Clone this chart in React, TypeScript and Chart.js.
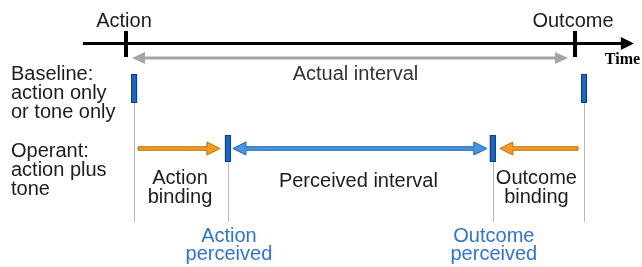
import { useEffect, useRef } from 'react';
import { Chart, registerables } from 'chart.js';

Chart.register(...registerables);

// ---- Data (timeline in % of the actual action→outcome interval) ----
const EVENT_LABELS = ['Action', 'Outcome'];
const EVENT_TIMES = [0, 100];
const BASELINE_TIMES = [1.8, 102];
const PERCEIVED_TIMES = [22.7, 81.7];
const PERCEIVED_LABELS = [['Action', 'perceived'], ['Outcome', 'perceived']];
const BINDING_LABELS = [['Action', 'binding'], ['Outcome', 'binding']];
const ROW_LABELS = [['Baseline:', 'action only', 'or tone only'], ['Operant:', 'action plus', 'tone']];
const INTERVAL_LABELS = ['Actual interval', 'Perceived interval'];
const AXIS_LABEL = 'Time';
const AXIS_RANGE = [-9.6, 113.1];
const X_RANGE = [-28.06, 114.92];

const FONT = '"Liberation Sans", Arial, sans-serif';
const TEXT = '#1c1c1c';
const BLUE_TEXT = '#2f74d3';
const ORANGE = '#f59b1f';
const ORANGE_EDGE = '#b8700f';
const BLUE = '#4597e6';
const BLUE_EDGE = '#1d5fae';
const MARK = '#1766cc';
const MARK_EDGE = '#0b3d7a';

type Ctx = CanvasRenderingContext2D;

function poly(ctx: Ctx, pts: number[][], fill: string, stroke?: string) {
  ctx.beginPath();
  pts.forEach(([x, y], i) => (i ? ctx.lineTo(x, y) : ctx.moveTo(x, y)));
  ctx.closePath();
  ctx.fillStyle = fill;
  ctx.fill();
  if (stroke) {
    ctx.strokeStyle = stroke;
    ctx.lineWidth = 1;
    ctx.lineJoin = 'miter';
    ctx.stroke();
  }
}

function arrow(ctx: Ctx, x0: number, x1: number, y: number, h: number, H: number, L: number, fill: string, stroke?: string) {
  const d = Math.sign(x1 - x0);
  const b = x1 - d * L;
  poly(ctx, [[x0, y - h], [b, y - h], [b, y - H], [x1, y], [b, y + H], [b, y + h], [x0, y + h]], fill, stroke);
}

function doubleArrow(ctx: Ctx, xa: number, xb: number, y: number, h: number, H: number, L: number, fill: string, stroke?: string) {
  poly(ctx, [
    [xa, y], [xa + L, y - H], [xa + L, y - h], [xb - L, y - h], [xb - L, y - H], [xb, y],
    [xb - L, y + H], [xb - L, y + h], [xa + L, y + h], [xa + L, y + H],
  ], fill, stroke);
}

function lines(ctx: Ctx, arr: string[], x: number, y: number, step: number, align: CanvasTextAlign, color: string, font = `20px ${FONT}`) {
  ctx.font = font;
  ctx.fillStyle = color;
  ctx.textAlign = align;
  ctx.textBaseline = 'alphabetic';
  arr.forEach((s, i) => ctx.fillText(s, x, y + i * step));
}

function rect(ctx: Ctx, cx: number, y0: number, y1: number) {
  ctx.fillStyle = MARK;
  ctx.fillRect(cx - 3, y0, 6, y1 - y0);
  ctx.strokeStyle = MARK_EDGE;
  ctx.lineWidth = 1;
  ctx.strokeRect(cx - 2.5, y0 + 0.5, 5, y1 - y0 - 1);
}

const diagramPlugin = {
  id: 'bindingDiagram',
  afterDatasetsDraw(chart: any) {
    const ctx: Ctx = chart.ctx;
    const xs = chart.scales.x;
    const ys = chart.scales.y;
    const px = (t: number) => xs.getPixelForValue(t);
    const py = (v: number) => ys.getPixelForValue(v);
    ctx.save();

    // rows (layout)
    const axisY = py(43.5);
    const baseTop = py(74), baseBot = py(103);
    const opY = py(148.5), opTop = py(135), opBot = py(162);
    const guideBot = py(222);

    // vertical guides
    ctx.strokeStyle = '#b8b8b8';
    ctx.lineWidth = 1;
    BASELINE_TIMES.forEach((t) => {
      const x = Math.round(px(t)) + 0.5;
      ctx.beginPath(); ctx.moveTo(x, baseBot); ctx.lineTo(x, guideBot); ctx.stroke();
    });
    PERCEIVED_TIMES.forEach((t) => {
      const x = Math.round(px(t)) + 0.5;
      ctx.beginPath(); ctx.moveTo(x, opBot); ctx.lineTo(x, guideBot); ctx.stroke();
    });

    // time axis
    const ax0 = px(AXIS_RANGE[0]), ax1 = px(AXIS_RANGE[1]);
    arrow(ctx, ax0, ax1, axisY, 1.5, 6.5, 13, '#000');
    ctx.fillStyle = '#000';
    EVENT_TIMES.forEach((t) => ctx.fillRect(px(t) - 2, py(31), 4, py(57) - py(31)));
    EVENT_LABELS.forEach((s, i) => lines(ctx, [s], px(EVENT_TIMES[i]) - 2, py(27), 0, 'center', TEXT));
    lines(ctx, [AXIS_LABEL], px(AXIS_RANGE[1]) - 29, py(64), 0, 'left', '#000', `bold 16px "Liberation Serif", "Times New Roman", serif`);

    // actual interval
    doubleArrow(ctx, px(EVENT_TIMES[0]) + 6, px(EVENT_TIMES[1]) - 7, py(58), 1.5, 6, 13, '#a6a6a6');
    lines(ctx, [INTERVAL_LABELS[0]], (px(EVENT_TIMES[0]) + px(EVENT_TIMES[1])) / 2 + 5, py(80), 0, 'center', '#333');

    // baseline marks
    BASELINE_TIMES.forEach((t) => rect(ctx, px(t), baseTop, baseBot));

    // operant arrows
    arrow(ctx, px(BASELINE_TIMES[0]) + 4, px(PERCEIVED_TIMES[0]) - 8, opY, 1.75, 6.5, 13, ORANGE, ORANGE_EDGE);
    arrow(ctx, px(BASELINE_TIMES[1]) - 6, px(PERCEIVED_TIMES[1]) + 7, opY, 1.75, 6.5, 13, ORANGE, ORANGE_EDGE);
    doubleArrow(ctx, px(PERCEIVED_TIMES[0]) + 5, px(PERCEIVED_TIMES[1]) - 6, opY, 1.75, 6.5, 13, BLUE, BLUE_EDGE);
    PERCEIVED_TIMES.forEach((t) => rect(ctx, px(t), opTop, opBot));

    // texts
    lines(ctx, ROW_LABELS[0], 11, py(80), 19, 'left', TEXT);
    lines(ctx, ROW_LABELS[1], 11, py(157), 19, 'left', TEXT);
    lines(ctx, BINDING_LABELS[0], (px(BASELINE_TIMES[0]) + px(PERCEIVED_TIMES[0])) / 2 - 1, py(184), 19, 'center', TEXT);
    lines(ctx, BINDING_LABELS[1], (px(BASELINE_TIMES[1]) + px(PERCEIVED_TIMES[1])) / 2 - 2, py(184), 19, 'center', TEXT);
    lines(ctx, [INTERVAL_LABELS[1]], (px(PERCEIVED_TIMES[0]) + px(PERCEIVED_TIMES[1])) / 2 - 2, py(187), 0, 'center', TEXT);
    PERCEIVED_LABELS.forEach((arr, i) => lines(ctx, arr, px(PERCEIVED_TIMES[i]) + 1, py(242), 18, 'center', BLUE_TEXT));

    ctx.restore();
  },
};

export default function App() {
  const ref = useRef<HTMLCanvasElement | null>(null);
  useEffect(() => {
    if (!ref.current) return;
    const chart = new Chart(ref.current, {
      type: 'scatter',
      data: { datasets: [{ data: [], pointRadius: 0 }] },
      options: {
        responsive: false,
        animation: false,
        events: [],
        layout: { padding: 0 },
        scales: {
          x: { type: 'linear', min: X_RANGE[0], max: X_RANGE[1], display: false },
          y: { type: 'linear', min: 0, max: 267, reverse: true, display: false },
        },
        plugins: { legend: { display: false }, tooltip: { enabled: false } },
      },
      plugins: [diagramPlugin],
    });
    return () => chart.destroy();
  }, []);
  return (
    <div style={{ position: 'fixed', left: 0, top: 0, width: 642, height: 267, background: '#fff' }}>
      <canvas ref={ref} width={642} height={267} style={{ display: 'block' }} />
    </div>
  );
}
